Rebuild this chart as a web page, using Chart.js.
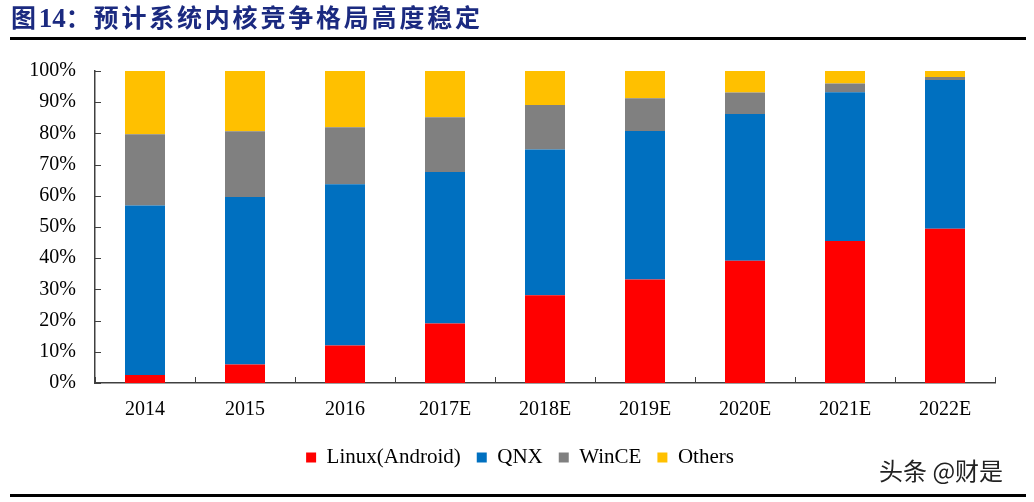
<!DOCTYPE html>
<html>
<head>
<meta charset="utf-8">
<script src="https://cdn.jsdelivr.net/npm/chart.js@4.4.1/dist/chart.umd.min.js"></script>
<style>
  html, body { margin: 0; padding: 0; background: #ffffff; }
  body { width: 1034px; height: 502px; position: relative; overflow: hidden; }
  #wrap { position: absolute; left: 0; top: 0; width: 1034px; height: 502px; }
  #title { position: absolute; left: 11px; top: 0px; height: 32px; line-height: 32px;
    font-family: "Noto Sans CJK SC", sans-serif; font-weight: 700; font-size: 25px;
    color: #1B2A80; letter-spacing: 2.8px; white-space: nowrap; z-index: 2; }
  #title .num { font-family: "Liberation Serif", serif; font-weight: 700; letter-spacing: 0; font-size: 27px; }
  #topline { position: absolute; left: 10px; width: 1016px; top: 37px; height: 3px; background: #000; z-index: 2; }
  #botline { position: absolute; left: 10px; width: 1016px; top: 494px; height: 3px; background: #000; z-index: 2; }
  #mark { position: absolute; left: 879px; top: 452px; font-family: "Noto Sans CJK SC", sans-serif;
    font-size: 24px; color: #222; white-space: nowrap; z-index: 2; }
</style>
</head>
<body>
<div id="wrap"><canvas id="c" width="1034" height="502"></canvas></div>
<div id="title">图<span class="num">14</span>：预计系统内核竞争格局高度稳定</div>
<div id="topline"></div>
<div id="botline"></div>
<div id="mark">头条 @财是</div>
<script>
const categories = ["2014", "2015", "2016", "2017E", "2018E", "2019E", "2020E", "2021E", "2022E"];
const linuxAndroid = [2.6, 5.9, 12.0, 19.1, 28.1, 33.2, 39.2, 45.5, 49.4];
const qnx = [54.3, 53.7, 51.7, 48.5, 46.7, 47.6, 47.0, 47.7, 47.7];
const wince = [22.8, 21.1, 18.3, 17.6, 14.3, 10.5, 6.9, 2.8, 1.0];
const others = [20.3, 19.3, 18.0, 14.8, 10.9, 8.7, 6.9, 4.0, 1.9];
const seriesNames = ["Linux(Android)", "QNX", "WinCE", "Others"];
const yTicks = [0, 10, 20, 30, 40, 50, 60, 70, 80, 90, 100];

const serif = "'Liberation Serif', 'Times New Roman', serif";
const axisColor = "#404040";

const innerTicks = {
  id: 'innerTicks',
  afterDraw(chart) {
    const ctx = chart.ctx;
    const xs = chart.scales.x, ys = chart.scales.y;
    ctx.save();
    ctx.strokeStyle = axisColor;
    ctx.lineWidth = 1;
    ctx.beginPath();
    yTicks.forEach(v => {
      const y = Math.round(ys.getPixelForValue(v)) + 0.5;
      ctx.moveTo(xs.left, y);
      ctx.lineTo(xs.left + 6, y);
    });
    const n = categories.length;
    for (let i = 0; i <= n; i++) {
      let x;
      if (i === 0) x = xs.left;
      else if (i === n) x = xs.right;
      else x = (xs.getPixelForValue(i - 1) + xs.getPixelForValue(i)) / 2;
      x = Math.round(x) + 0.5;
      ctx.moveTo(x, ys.bottom);
      ctx.lineTo(x, ys.bottom - 6);
    }
    ctx.stroke();
    ctx.restore();
  }
};

const legendShift = {
  id: 'legendShift',
  afterLayout(chart) {
    if (chart.legend) { chart.legend.left += 10; chart.legend.right += 10; }
  }
};

const ds = (label, data, color) => ({
  label, data, backgroundColor: color, borderWidth: 0,
  barPercentage: 0.4, categoryPercentage: 1.0
});

new Chart(document.getElementById('c'), {
  type: 'bar',
  data: {
    labels: categories,
    datasets: [
      ds(seriesNames[0], linuxAndroid, '#FF0000'),
      ds(seriesNames[1], qnx, '#0070C0'),
      ds(seriesNames[2], wince, '#808080'),
      ds(seriesNames[3], others, '#FFC000')
    ]
  },
  options: {
    responsive: false,
    animation: false,
    layout: { padding: { top: 71, left: 25, right: 39, bottom: 24 } },
    plugins: {
      title: { display: false },
      tooltip: { enabled: false },
      legend: {
        position: 'bottom',
        labels: {
          boxWidth: 10, boxHeight: 10, padding: 16,
          color: '#000', font: { family: serif, size: 21 }
        }
      }
    },
    scales: {
      x: {
        stacked: true,
        grid: { display: false, drawTicks: false },
        border: { display: true, color: axisColor, width: 1.5 },
        ticks: { color: '#000', font: { family: serif, size: 20 }, padding: 15, maxRotation: 0 },
        afterFit(scale) { scale.height = 48; }
      },
      y: {
        stacked: true,
        min: 0, max: 100,
        afterBuildTicks(scale) { scale.ticks = yTicks.map(v => ({ value: v })); },
        grid: { display: false, drawTicks: false },
        border: { display: true, color: axisColor, width: 1.5 },
        ticks: { color: '#000', font: { family: serif, size: 20 }, padding: 19,
          callback: v => v + '%' },
        afterFit(scale) { scale.width = 70; }
      }
    }
  },
  plugins: [innerTicks, legendShift]
});
</script>
</body>
</html>
